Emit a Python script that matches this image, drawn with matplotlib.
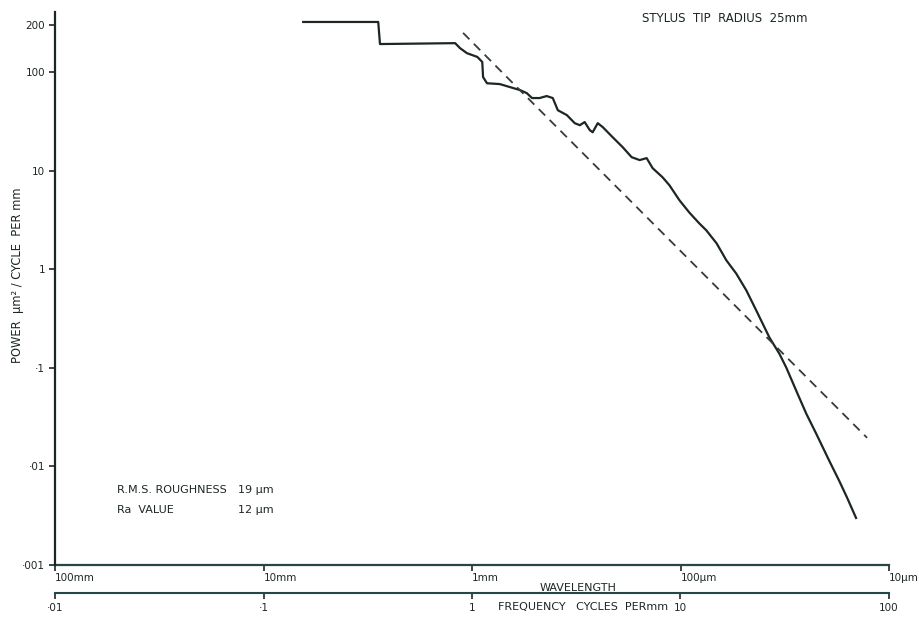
import numpy as np
import matplotlib
matplotlib.use("Agg")
import matplotlib.pyplot as plt
from matplotlib.ticker import FixedLocator, NullLocator

# measured power spectrum (frequency in cycles per mm, power in um^2 / cycle per mm)
freq = [0.155, 0.355, 0.362, 0.83, 0.877, 0.946, 1.06, 1.12, 1.13, 1.18, 1.36,
        1.52, 1.70, 1.83, 1.94, 2.11, 2.28, 2.44, 2.58, 2.85, 3.11, 3.29, 3.47,
        3.67, 3.79, 4.01, 4.24, 4.73, 5.28, 5.83, 6.37, 6.88, 7.35, 8.20, 8.85,
        9.89, 11.0, 12.3, 13.3, 14.9, 16.6, 18.5, 20.7, 23.1, 26.7, 29.8, 32.2,
        35.9, 40.1, 44.8, 51.7, 57.7, 63.0, 69.5]
power = [209, 209, 151, 153, 142, 132, 125, 116, 89, 77, 75.5,
         70.4, 65.6, 61.2, 54.5, 54.5, 57.1, 54.5, 41, 36.6, 30.3, 28.9, 31.1,
         25.8, 24.5, 30.3, 27.6, 21.8, 17.3, 13.7, 12.8, 13.4, 10.6, 8.57, 7.11,
         5.0, 3.78, 2.92, 2.48, 1.83, 1.23, 0.905, 0.609, 0.381, 0.203, 0.139, 0.100,
         0.0586, 0.0343, 0.0214, 0.0114, 0.00714, 0.0048, 0.0030]

# straight reference line (dashed)
ref_freq = [0.906, 1.39, 78.5]
ref_power = [178, 100, 0.0195]

y_ticks = [0.001, 0.01, 0.1, 1, 10, 100, 200]
y_labels = ["·001", "·01", "·1", "1", "10", "100", "200"]
f_ticks = [0.01, 0.1, 1, 10, 100]
f_labels = ["·01", "·1", "1", "10", "100"]
w_ticks = [100, 10, 1, 0.1, 0.01]
w_labels = ["100mm", "10mm", "1mm", "100µm", "10µm"]

INK = "#1d2626"
AXC = "#244848"

# the printed chart stretches the scale above 100
K = 1.587


def fwd(v):
    v = np.clip(np.asarray(v, dtype=float), 1e-12, None)
    lv = np.log10(v)
    return np.where(lv <= 2, lv, 2 + (lv - 2) * K)


def inv(t):
    t = np.asarray(t, dtype=float)
    return np.where(t <= 2, 10.0 ** t, 10.0 ** (2 + (t - 2) / K))


def recip(x):
    x = np.asarray(x, dtype=float)
    with np.errstate(divide="ignore"):
        return 1.0 / x


plt.rcParams["font.family"] = "DejaVu Sans"
fig = plt.figure(figsize=(9.2, 6.18), dpi=100)
ax = fig.add_axes([55 / 920, 53 / 618, 834 / 920, 553 / 618])

ax.plot(freq, power, color=INK, lw=1.6, solid_joinstyle="round")
ax.plot(ref_freq, ref_power, color="#333b3b", lw=1.3, dashes=(5, 3.5))

ax.set_xscale("log")
ax.set_xlim(0.01, 100)
ax.set_yscale("function", functions=(fwd, inv))
ax.set_ylim(0.001, 242)

ax.yaxis.set_major_locator(FixedLocator(y_ticks))
ax.yaxis.set_minor_locator(NullLocator())
ax.set_yticklabels(y_labels)
ax.tick_params(axis="y", direction="out", length=4, width=1.2, labelsize=7.5,
               colors=INK, pad=3)

# frequency axis, drawn below the wavelength line
ax.set_xticks(f_ticks)
ax.xaxis.set_minor_locator(NullLocator())
ax.set_xticklabels(f_labels)
ax.spines["bottom"].set_position(("outward", 20.5))
ax.tick_params(axis="x", direction="out", length=4, width=1.2, labelsize=7.5,
               colors=INK, pad=3)

for s in ["top", "right"]:
    ax.spines[s].set_visible(False)
ax.spines["left"].set_color(INK)
ax.spines["left"].set_linewidth(1.6)
ax.spines["bottom"].set_color(AXC)
ax.spines["bottom"].set_linewidth(1.5)

# wavelength axis on the bottom edge of the plot
wax = ax.secondary_xaxis(0.0, functions=(recip, recip))
wax.set_xticks(w_ticks)
wax.xaxis.set_minor_locator(NullLocator())
wax.set_xticklabels(w_labels)
wax.tick_params(axis="x", direction="out", length=4, width=1.2, labelsize=7.5,
                colors=INK, pad=2)
for lab in wax.get_xticklabels():
    lab.set_horizontalalignment("left")
wax.spines["bottom"].set_color(AXC)
wax.spines["bottom"].set_linewidth(1.6)

fig.text(578 / 920, 1 - 588 / 618, "WAVELENGTH", fontsize=8, color=INK,
         ha="center", va="center")
fig.text(498 / 920, 1 - 607 / 618, "FREQUENCY   CYCLES  PERmm", fontsize=8,
         color=INK, ha="left", va="center")

fig.text(18 / 920, 1 - 275 / 618, "POWER  µm² / CYCLE  PER mm", fontsize=8.3,
         color=INK, rotation=90, ha="center", va="center")

fig.text(725 / 920, 1 - 18 / 618, "STYLUS  TIP  RADIUS  25mm", fontsize=8.5,
         color=INK, ha="center", va="center")

fig.text(117 / 920, 1 - 490 / 618, "R.M.S. ROUGHNESS", fontsize=8,
         color=INK, ha="left", va="center")
fig.text(238 / 920, 1 - 490 / 618, "19 µm", fontsize=8,
         color=INK, ha="left", va="center")
fig.text(117 / 920, 1 - 510 / 618, "Ra  VALUE", fontsize=8,
         color=INK, ha="left", va="center")
fig.text(238 / 920, 1 - 510 / 618, "12 µm", fontsize=8,
         color=INK, ha="left", va="center")

fig.savefig("out.png", dpi=100)
